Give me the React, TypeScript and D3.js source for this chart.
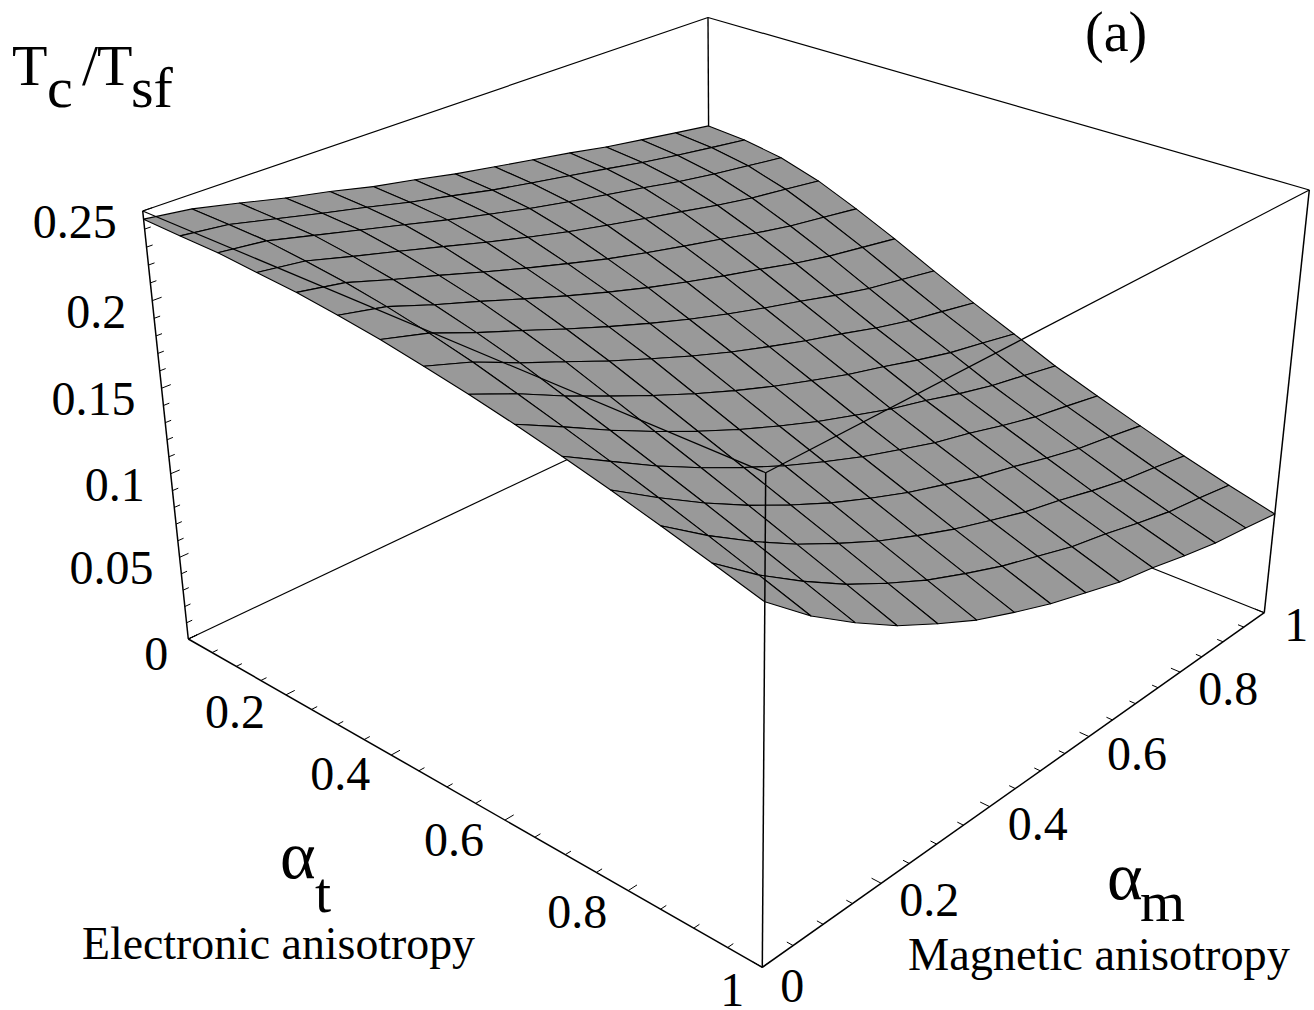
import { useEffect, useRef } from 'react';
import * as d3 from 'd3';

const width = 1314;
const height = 1010;

const tcRows = [
  [.2455, .2420, .2362, .2301, .2249, .2189, .2142, .2090, .2047, .2005, .1963, .1917, .1879, .1842, .1806],
  [.2448, .2417, .2356, .2296, .2239, .2178, .2126, .2072, .2027, .1984, .1941, .1895, .1857, .1822, .1789],
  [.2443, .2412, .2348, .2285, .2222, .2158, .2100, .2043, .1994, .1948, .1903, .1855, .1815, .1782, .1749],
  [.2424, .2389, .2318, .2251, .2182, .2113, .2049, .1988, .1935, .1885, .1837, .1787, .1744, .1711, .1678],
  [.2408, .2361, .2279, .2204, .2126, .2051, .1981, .1914, .1856, .1802, .1751, .1697, .1650, .1615, .1579],
  [.2379, .2323, .2232, .2150, .2064, .1982, .1905, .1833, .1769, .1709, .1654, .1596, .1546, .1508, .1470],
  [.2346, .2275, .2174, .2082, .1988, .1899, .1816, .1739, .1670, .1606, .1548, .1486, .1432, .1392, .1351],
  [.2303, .2218, .2107, .2007, .1905, .1812, .1723, .1642, .1570, .1502, .1442, .1377, .1321, .1279, .1236],
  [.2258, .2150, .2028, .1918, .1812, .1713, .1623, .1540, .1467, .1397, .1338, .1274, .1217, .1174, .1130],
  [.2206, .2079, .1948, .1828, .1717, .1614, .1522, .1437, .1363, .1291, .1233, .1167, .1110, .1067, .1022],
  [.2148, .2005, .1864, .1738, .1623, .1517, .1424, .1338, .1265, .1193, .1137, .1073, .1016, .0974, .0930],
  [.2086, .1926, .1778, .1645, .1527, .1419, .1326, .1240, .1168, .1097, .1042, .0980, .0925, .0885, .0842],
  [.2018, .1844, .1689, .1550, .1431, .1320, .1227, .1142, .1070, .1000, .0948, .0888, .0834, .0797, .0756],
  [.1948, .1759, .1598, .1454, .1332, .1221, .1130, .1046, .0977, .0908, .0861, .0803, .0752, .0718, .0680],
  [.1875, .1672, .1505, .1356, .1234, .1122, .1033, .0951, .0885, .0819, .0776, .0722, .0675, .0645, .0610],
];

const alphaLabels = [0, 0.2, 0.4, 0.6, 0.8, 1];
const alphaTicks = d3.range(0, 1.0001, 0.05);
const zLabels = [0.05, 0.1, 0.15, 0.2, 0.25];
const zTicks = d3.range(0, 0.2501, 0.01);

// box corners on the page, with (u, v) = (alpha_t, alpha_m)
const floorCorners = { l: [188.3, 639], f: [762.3, 967.3], r: [1264.3, 612.7], b: [710, 392] };
const ceilCorners = { l: [142.7, 211], f: [765.7, 472.7], r: [1309.3, 190], b: [708, 17.5] };
const zDepth = 1.06; // vertical foreshortening

// unit square to a quad on the page
function homography(q: any) {
  const [x0, y0] = q.l, [x1, y1] = q.f, [x2, y2] = q.r, [x3, y3] = q.b;
  const sx = x0 - x1 + x2 - x3, sy = y0 - y1 + y2 - y3;
  const dx1 = x1 - x2, dx2 = x3 - x2, dy1 = y1 - y2, dy2 = y3 - y2;
  const den = dx1 * dy2 - dx2 * dy1;
  const g = (sx * dy2 - dx2 * sy) / den;
  const h = (dx1 * sy - sx * dy1) / den;
  return (u: number, v: number) => {
    const w = 1 + g * u + h * v;
    return [
      (x0 + (x1 * (1 + g) - x0) * u + (x3 * (1 + h) - x0) * v) / w,
      (y0 + (y1 * (1 + g) - y0) * u + (y3 * (1 + h) - y0) * v) / w,
    ];
  };
}

const floorMap = homography(floorCorners);
const ceilMap = homography(ceilCorners);
const zScale = d3.scaleLinear().domain([0, 0.25]).range([0, 1]);
const gridScale = d3.scaleLinear().domain([0, tcRows.length - 1]).range([0, 1]);

function project(u: number, v: number, z: number) {
  const f = zScale(z);
  const t = f / (f + zDepth * (1 - f));
  const a = floorMap(u, v), b = ceilMap(u, v);
  return [a[0] + (b[0] - a[0]) * t, a[1] + (b[1] - a[1]) * t];
}

const line = d3.line();

export default function App() {
  const ref = useRef<SVGSVGElement>(null);

  useEffect(() => {
    const svg = d3.select(ref.current);
    svg.selectAll('*').remove();

    const edge = (p: number[], q: number[], w = 1.2) =>
      svg.append('path')
        .attr('d', line([p as any, q as any]))
        .attr('stroke', 'black')
        .attr('stroke-width', w)
        .attr('fill', 'none');

    // back of the box, behind the surface
    edge(project(0, 0, 0), project(0, 1, 0));
    edge(project(1, 1, 0), project(0, 1, 0));
    edge(project(0, 1, 0), project(0, 1, 0.25), 1.4);
    edge(project(0, 0, 0.25), project(0, 1, 0.25));
    edge(project(1, 1, 0.25), project(0, 1, 0.25));

    // surface, back cells first
    const cells: any[] = [];
    for (let i = 0; i < tcRows.length - 1; i++) {
      for (let j = tcRows[i].length - 2; j >= 0; j--) {
        cells.push({ i, j });
      }
    }
    svg.append('g')
      .selectAll('path')
      .data(cells)
      .join('path')
      .attr('d', (d: any) => {
        const c = [[d.i, d.j], [d.i + 1, d.j], [d.i + 1, d.j + 1], [d.i, d.j + 1]];
        return line(c.map(([a, b]) => project(gridScale(a), gridScale(b), tcRows[a][b]) as any)) + 'Z';
      })
      .attr('fill', '#999999')
      .attr('stroke', 'black')
      .attr('stroke-width', 1.1)
      .attr('stroke-linejoin', 'round');

    // front of the box
    edge(project(0, 0, 0.25), project(1, 0, 0.25));
    edge(project(1, 1, 0.25), project(1, 0, 0.25));
    edge(project(1, 0, 0), project(1, 0, 0.25), 1.5);
    edge(project(0, 0, 0), project(0, 0, 0.25), 1.5);
    edge(project(1, 1, 0), project(1, 1, 0.25), 1.5);
    edge(project(0, 0, 0), project(1, 0, 0), 1.5);
    edge(project(1, 0, 0), project(1, 1, 0), 1.5);

    // ticks
    alphaTicks.forEach(a => {
      const major = Math.abs(a * 5 - Math.round(a * 5)) < 1e-6;
      edge(project(a, 0, 0), project(a, major ? 0.014 : 0.009, 0), 1);
      edge(project(1, a, 0), project(major ? 0.986 : 0.991, a, 0), 1);
    });
    zTicks.forEach(z => {
      const major = Math.abs(z * 20 - Math.round(z * 20)) < 1e-6;
      edge(project(0, 0, z), project(0, major ? 0.014 : 0.009, z), 1);
    });

    const text = (x: number, y: number, s: string, size: number, anchor = 'middle') =>
      svg.append('text')
        .attr('x', x)
        .attr('y', y)
        .attr('font-size', size)
        .attr('text-anchor', anchor)
        .attr('font-family', '"Liberation Serif"')
        .attr('fill', 'black')
        .text(s);

    alphaLabels.forEach(a => {
      const p = project(a, 0, 0);
      const q = project(1, a, 0);
      const dxT = a === 0 ? -32 : a === 1 ? -30 : -51;
      const dxM = a === 0 ? 30 : a === 1 ? 32 : 48;
      text(p[0] + dxT, p[1] + (a === 0 ? 31 : a === 1 ? 39 : 32 + a * 7), String(a), 48);
      text(q[0] + dxM, q[1] + (a === 0 ? 35 : a === 1 ? 28 : 33), String(a), 48);
    });
    zLabels.forEach(z => {
      const p = project(0, 0, z);
      text(p[0] - 26, p[1] + 27, String(z), 48, 'end');
    });

    // axis titles
    text(12, 85, 'T', 58, 'start');
    text(47, 107, 'c', 58, 'start');
    text(82, 85, '/', 58, 'start');
    text(97, 85, 'T', 58, 'start');
    text(131, 107, 'sf', 58, 'start');
    text(1085, 51, '(a)', 56, 'start');
    text(280, 878, '\u03b1', 68, 'start');
    text(315, 912, 't', 58, 'start');
    text(1107, 899, '\u03b1', 68, 'start');
    text(1140, 921, 'm', 58, 'start');
    text(82, 959, 'Electronic anisotropy', 45.8, 'start');
    text(908, 970, 'Magnetic anisotropy', 46.3, 'start');
  }, []);

  return (
    <svg
      ref={ref}
      width={width}
      height={height}
      style={{ position: 'absolute', left: 0, top: 0, background: 'white' }}
    />
  );
}
